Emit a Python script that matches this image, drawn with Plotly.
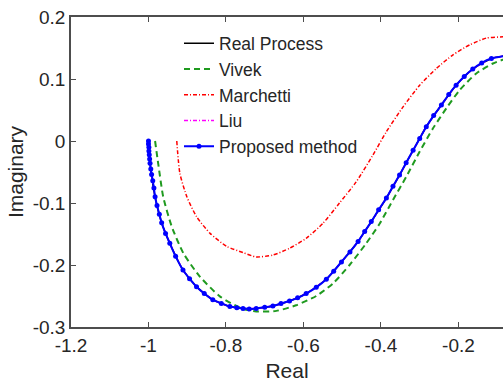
import plotly.graph_objects as go

# ---- data ----
real_x = [-1.000, -0.996, -0.983, -0.966, -0.945, -0.911, -0.876, -0.834, -0.790, -0.756,
          -0.722, -0.679, -0.636, -0.593, -0.541, -0.502, -0.459, -0.425, -0.386, -0.352,
          -0.317, -0.283, -0.244, -0.206, -0.163, -0.115, -0.085, -0.060]
real_y = [0.000, -0.036, -0.090, -0.132, -0.165, -0.208, -0.235, -0.256, -0.267, -0.270,
          -0.270, -0.266, -0.258, -0.246, -0.223, -0.195, -0.162, -0.130, -0.092, -0.055,
          -0.015, 0.023, 0.058, 0.090, 0.116, 0.133, 0.137, 0.139]

vivek_x = [-0.983, -0.975, -0.962, -0.940, -0.910, -0.867, -0.815, -0.760, -0.722, -0.670,
           -0.619, -0.567, -0.524, -0.481, -0.438, -0.403, -0.369, -0.335, -0.300, -0.266,
           -0.231, -0.197, -0.154, -0.111, -0.085, -0.060]
vivek_y = [0.000, -0.036, -0.090, -0.138, -0.181, -0.219, -0.251, -0.270, -0.275, -0.274,
           -0.265, -0.250, -0.230, -0.200, -0.165, -0.133, -0.095, -0.058, -0.017, 0.020,
           0.053, 0.082, 0.109, 0.125, 0.131, 0.134]

marchetti_x = [-0.927, -0.919, -0.901, -0.876, -0.841, -0.798, -0.756, -0.722, -0.679, -0.636,
               -0.593, -0.550, -0.507, -0.464, -0.421, -0.386, -0.343, -0.300, -0.257, -0.214,
               -0.171, -0.128, -0.085, -0.060]
marchetti_y = [0.000, -0.052, -0.090, -0.122, -0.149, -0.170, -0.180, -0.187, -0.184, -0.173,
               -0.157, -0.133, -0.100, -0.066, -0.023, 0.015, 0.055, 0.090, 0.117, 0.139,
               0.155, 0.166, 0.168, 0.169]

liu_x = real_x
liu_y = real_y

proposed_x = [-1.000, -1.000, -0.999, -0.999, -0.998, -0.997, -0.996, -0.994, -0.992, -0.989,
              -0.986, -0.983, -0.978, -0.972, -0.966, -0.956, -0.945, -0.930, -0.911, -0.894,
              -0.876, -0.856, -0.834, -0.812, -0.790, -0.772, -0.756, -0.740, -0.722, -0.700,
              -0.679, -0.658, -0.636, -0.615, -0.593, -0.567, -0.541, -0.522, -0.502, -0.480,
              -0.459, -0.442, -0.425, -0.406, -0.386, -0.369, -0.352, -0.335, -0.317, -0.300,
              -0.283, -0.264, -0.244, -0.225, -0.206, -0.185, -0.163, -0.140, -0.115, -0.060]
proposed_y = [0.000, -0.005, -0.010, -0.016, -0.022, -0.029, -0.036, -0.045, -0.054, -0.064,
              -0.076, -0.090, -0.104, -0.118, -0.132, -0.149, -0.165, -0.186, -0.208, -0.222,
              -0.235, -0.246, -0.256, -0.262, -0.267, -0.269, -0.270, -0.271, -0.270, -0.268,
              -0.266, -0.262, -0.258, -0.253, -0.246, -0.236, -0.223, -0.210, -0.195, -0.179,
              -0.162, -0.146, -0.130, -0.111, -0.092, -0.073, -0.055, -0.035, -0.015, 0.004,
              0.023, 0.041, 0.058, 0.075, 0.090, 0.104, 0.116, 0.126, 0.133, 0.139]

x_ticks = [-1.2, -1.0, -0.8, -0.6, -0.4, -0.2]
x_tick_labels = ["-1.2", "-1", "-0.8", "-0.6", "-0.4", "-0.2"]
y_ticks = [0.2, 0.1, 0.0, -0.1, -0.2, -0.3]
y_tick_labels = ["0.2", "0.1", "0", "-0.1", "-0.2", "-0.3"]

FONT = "Liberation Sans, Arial, sans-serif"
AX = "#4d4d4d"
TXT = "#262626"

fig = go.Figure()
fig.add_trace(go.Scatter(x=real_x, y=real_y, mode="lines", name="Real Process",
                         line=dict(color="black", width=1.5, shape="spline", smoothing=0.6),
                         legendgroup="a"))
fig.add_trace(go.Scatter(x=vivek_x, y=vivek_y, mode="lines", name="Vivek",
                         line=dict(color="#1f9a1f", width=2, dash="6px,4px", shape="spline", smoothing=0.6),
                         legendgroup="b"))
fig.add_trace(go.Scatter(x=marchetti_x, y=marchetti_y, mode="lines", name="Marchetti",
                         line=dict(color="#ff0000", width=1.5, dash="4px,2px,1px,2px",
                                   shape="spline", smoothing=0.6),
                         legendgroup="c"))
fig.add_trace(go.Scatter(x=liu_x, y=liu_y, mode="lines", name="Liu",
                         line=dict(color="#ff00ff", width=1.5, dash="4px,2px,1px,2px",
                                   shape="spline", smoothing=0.6),
                         legendgroup="d"))
fig.add_trace(go.Scatter(x=proposed_x, y=proposed_y, mode="lines+markers", name="Proposed method",
                         line=dict(color="#0000ff", width=2, dash="solid", shape="spline", smoothing=0.6),
                         marker=dict(color="#0000ff", size=5, symbol="circle"), legendgroup="e"))

fig.update_layout(
    width=503, height=382,
    margin=dict(l=71, r=0, t=17, b=55),
    paper_bgcolor="white", plot_bgcolor="white",
    font=dict(family=FONT, size=19, color=TXT),
    showlegend=True,
    legend=dict(x=0.25, y=0.973, xanchor="left", yanchor="top",
                bgcolor="rgba(255,255,255,0)", borderwidth=0,
                font=dict(family=FONT, size=17.5, color=TXT),
                traceorder="grouped", tracegroupgap=0, itemwidth=30),
    xaxis=dict(range=[-1.2, -0.085], tickvals=x_ticks, ticktext=x_tick_labels,
               showgrid=False, zeroline=False, showline=True, linecolor=AX, linewidth=1.5,
               mirror="ticks", ticks="inside", ticklen=5, tickcolor=AX,
               tickfont=dict(family=FONT, size=19, color=TXT),
               title=dict(text="Real", font=dict(family=FONT, size=21, color=TXT), standoff=10)),
    yaxis=dict(range=[-0.3, 0.2], tickvals=y_ticks, ticktext=y_tick_labels,
               showgrid=False, zeroline=False, showline=True, linecolor=AX, linewidth=1.5,
               mirror=False, ticks="inside", ticklen=5, tickcolor=AX,
               tickfont=dict(family=FONT, size=19, color=TXT),
               title=dict(text="Imaginary", font=dict(family=FONT, size=21, color=TXT), standoff=3)),
)

fig.write_html("out.html")
